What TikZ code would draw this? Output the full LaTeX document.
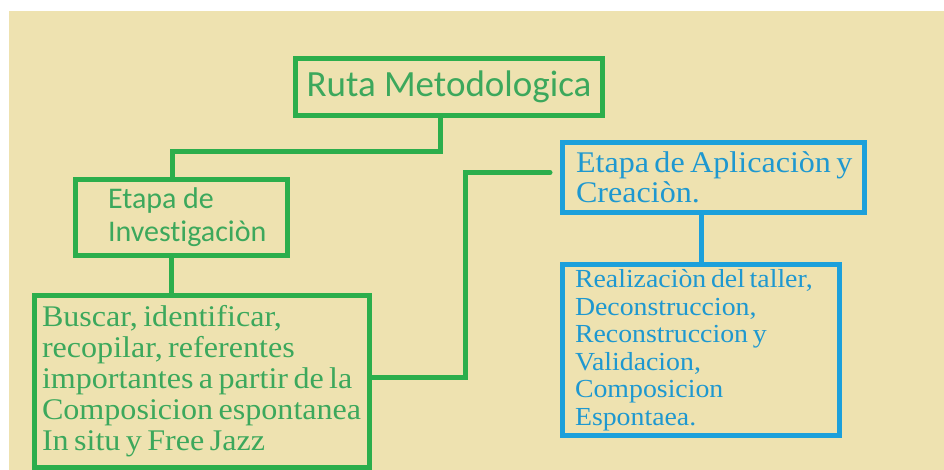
\documentclass[tikz,border=0pt]{standalone}
\usepackage{fontspec}
\setmainfont{Liberation Serif}[FakeStretch=1.07]
\setsansfont{Carlito}[Ligatures=NoCommon]
\usetikzlibrary{positioning}

\definecolor{fondo}{RGB}{238,226,176}
\definecolor{verde}{RGB}{44,174,76}
\definecolor{verdetxt}{RGB}{60,168,92}
\definecolor{azul}{RGB}{28,160,219}
\definecolor{azultxt}{RGB}{30,152,208}

\newcommand\serifgrande[2]{\fontsize{#1}{#2}\selectfont\spaceskip=0.18em\relax}

\tikzset{
  cajav/.style={draw=verde, line width=5pt, text=verdetxt, inner sep=0pt},
  cajaa/.style={draw=azul, line width=5pt, text=azultxt, inner sep=0pt},
  lineav/.style={draw=verde, line width=5pt},
  lineaa/.style={draw=azul, line width=5pt},
}

\begin{document}
\begin{tikzpicture}[x=1pt,y=-1pt]
        \clip (0,0) rectangle (944,470);
        \fill[white] (0,0) rectangle (944,470);
        \fill[fondo] (9,11) rectangle (944,470);

        \node[cajav, minimum width=307pt, minimum height=57pt,
              font=\sffamily\fontsize{37}{40}\selectfont] (ruta) at (449,87) {Ruta Metodologica};
        \node[cajav, minimum width=212pt, minimum height=76pt, text width=147pt, align=flush left,
              font=\sffamily\fontsize{30}{33}\selectfont] (inv) at (181.5,217.5) {Etapa de\\Investigaciòn};
        \node[cajav, minimum width=335pt, minimum height=172pt, text width=320pt, align=flush left,
              font=\serifgrande{30}{31}] (bus) at (202,381.5)
              {Buscar, identificar,\\recopilar, referentes\\importantes a partir de la\\Composicion espontanea\\In situ y Free Jazz};

        \node[cajaa, minimum width=302pt, minimum height=70pt, text width=275pt, align=flush left,
              font=\serifgrande{30}{30}] (apl) at (713.5,177.5) {\mbox{Etapa de Aplicaciòn y}\\Creaciòn.};
        \node[cajaa, minimum width=277pt, minimum height=171pt, text width=252pt, align=flush left,
              font=\serifgrande{26}{27.5}] (rea) at (701,350)
              {Realizaciòn del taller,\\Deconstruccion,\\Reconstruccion y\\Validacion,\\Composicion\\Espontaea.};

        \draw[lineav] ([xshift=-9pt]ruta.south) -- ++(0,34) -| ([xshift=-9.5pt]inv.north);
        \draw[lineav] ([xshift=-10.5pt]inv.south) -- ([xshift=-10.5pt]inv.south |- bus.north);
        \draw[lineav, line cap=round] ([yshift=4.5pt]bus.east) -- ++(93,0) |- ([xshift=-10pt,yshift=5pt]apl.west);
        \draw[lineaa] (rea.north) -- (rea.north |- apl.south);
\end{tikzpicture}
\end{document}
